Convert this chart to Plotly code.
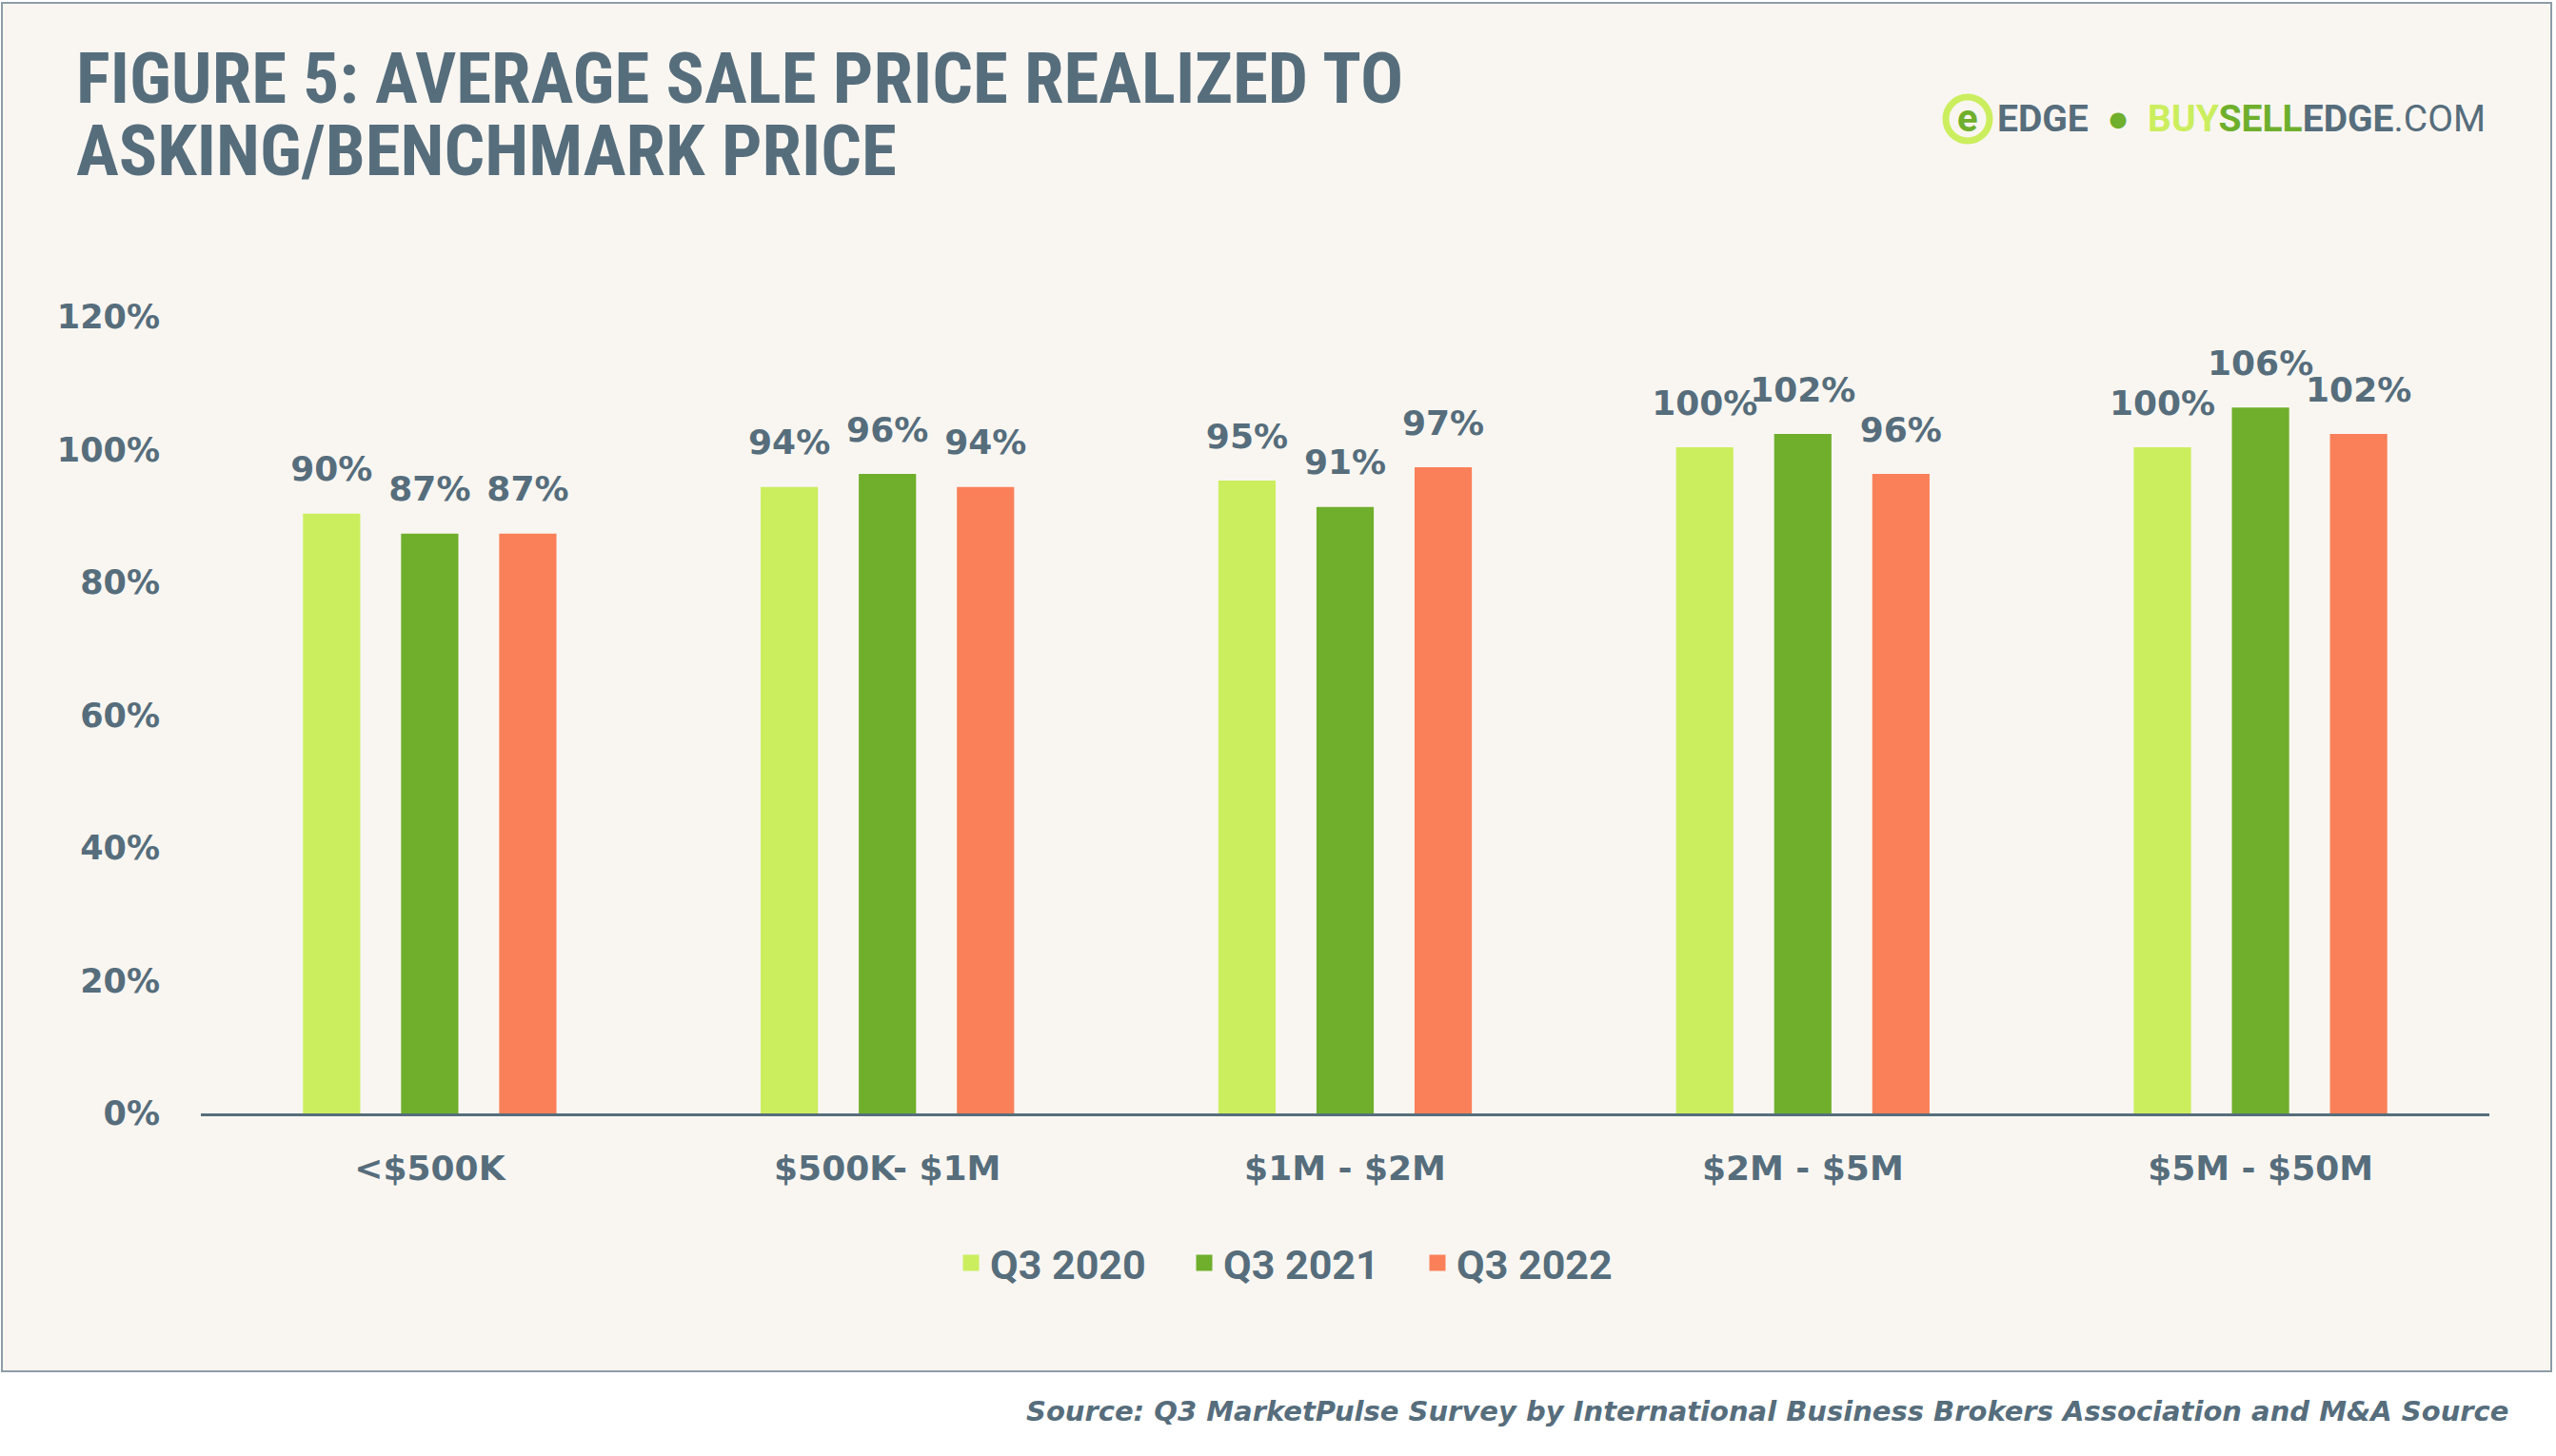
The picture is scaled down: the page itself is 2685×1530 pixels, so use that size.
import plotly.graph_objects as go

# ---------------- data ----------------
categories = ["<$500K", "$500K- $1M", "$1M - $2M", "$2M - $5M", "$5M - $50M"]
series_names = ["Q3 2020", "Q3 2021", "Q3 2022"]
q3_2020 = [0.90, 0.94, 0.95, 1.00, 1.00]
q3_2021 = [0.87, 0.96, 0.91, 1.02, 1.06]
q3_2022 = [0.87, 0.94, 0.97, 0.96, 1.02]
y_ticks = [0, 0.2, 0.4, 0.6, 0.8, 1.0, 1.2]
y_tick_labels = ["0%", "20%", "40%", "60%", "80%", "100%", "120%"]

title_line1 = "FIGURE 5: AVERAGE SALE PRICE REALIZED TO"
title_line2 = "ASKING/BENCHMARK PRICE"
source_text = "Source: Q3 MarketPulse Survey by International Business Brokers Association and M&A Source"

# ---------------- style ----------------
colors = ["#cbee5e", "#6faf2c", "#fa8059"]
SLATE = "#566d7c"
CREAM = "#f9f6f1"
BORDER = "#8d9ca7"

W, H = 2685, 1530
L, R, T, B = 211, 70, 333, 360
PW = W - L - R
PH = H - T - B


def px(xp):
    return (xp - L) / PW


def py(yp):
    return (H - B - yp) / PH


fig = go.Figure()

series_values = [q3_2020, q3_2021, q3_2022]
for name, vals, col in zip(series_names, series_values, colors):
    fig.add_trace(go.Bar(
        x=categories, y=vals, name=name, offsetgroup=name,
        marker=dict(color=col, line=dict(color=col, width=5)),
        hoverinfo="skip",
    ))

for name, vals in zip(series_names, series_values):
    fig.add_trace(go.Scatter(
        x=categories, y=vals, mode="markers+text", offsetgroup=name,
        text=[f"{v:.0%}" for v in vals], textposition="top center",
        textfont=dict(family="DejaVu Sans", size=36, color=SLATE, weight="bold"),
        marker=dict(size=43, opacity=0), showlegend=False, hoverinfo="skip",
        cliponaxis=False,
    ))

shapes = [
    dict(type="rect", xref="paper", yref="paper", layer="below",
         x0=px(2), x1=px(2680), y0=py(1441), y1=py(3),
         fillcolor=CREAM, line=dict(color=BORDER, width=2)),
    dict(type="circle", xref="paper", yref="paper",
         x0=px(2044), x1=px(2090), y0=py(148), y1=py(102),
         line=dict(color="#cbee5e", width=7)),
]

logo = ("<b><span style='color:%s'>EDGE</span></b>  <span style='color:#6faf2c'>●</span>  "
        "<b><span style='color:#cbee5e'>BUY</span><span style='color:#6faf2c'>SELL</span>"
        "<span style='color:%s'>EDGE</span></b><span style='color:%s'>.COM</span>") % (SLATE, SLATE, SLATE)

title_font = dict(family="Liberation Sans Narrow, Roboto Condensed, Roboto", size=75, color=SLATE, weight="bold")

annotations = [
    dict(xref="paper", yref="paper", x=px(78), y=py(82), xanchor="left", yanchor="middle",
         text=title_line1, showarrow=False, height=72, valign="middle", font=title_font),
    dict(xref="paper", yref="paper", x=px(78), y=py(158), xanchor="left", yanchor="middle",
         text=title_line2, showarrow=False, height=72, valign="middle", font=title_font),
    dict(xref="paper", yref="paper", x=px(2067), y=py(125), xanchor="center", yanchor="middle",
         text="<b>e</b>", showarrow=False,
         font=dict(family="Roboto", size=40, color="#6faf2c")),
    dict(xref="paper", yref="paper", x=px(2096), y=py(125), xanchor="left", yanchor="middle",
         text=logo, showarrow=False, font=dict(family="Roboto", size=39, color=SLATE)),
    dict(xref="paper", yref="paper", x=px(2637), y=py(1483), xanchor="right", yanchor="middle",
         text=source_text, showarrow=False,
         font=dict(family="DejaVu Sans", size=29, color=SLATE, weight="bold", style="italic")),
]

fig.update_layout(
    width=W, height=H,
    margin=dict(l=L, r=R, t=T, b=B, autoexpand=False),
    paper_bgcolor="white", plot_bgcolor=CREAM,
    barmode="group", bargap=0.357, bargroupgap=0.4645,
    scattermode="group", scattergap=0.357,
    showlegend=True,
    legend=dict(orientation="h", x=px(1000), xanchor="left", y=py(1327), yanchor="middle",
                font=dict(family="Roboto", size=43, color=SLATE, weight="bold"),
                bgcolor="rgba(0,0,0,0)", entrywidth=200, traceorder="normal"),
    xaxis=dict(type="category", showline=True, linecolor=SLATE, linewidth=3, ticks="",
               showgrid=False, zeroline=False, ticklabelstandoff=24,
               tickfont=dict(family="DejaVu Sans", size=36, color=SLATE, weight="bold")),
    yaxis=dict(range=[0, 1.2], tickvals=y_ticks, ticktext=y_tick_labels, showgrid=False,
               zeroline=False, showline=False, ticks="", ticklabelstandoff=42,
               tickfont=dict(family="DejaVu Sans", size=35, color=SLATE, weight="bold")),
    shapes=shapes,
    annotations=annotations,
)

fig.write_html("out.html", config={"displayModeBar": False},
               post_script="document.body.style.margin='0';")
